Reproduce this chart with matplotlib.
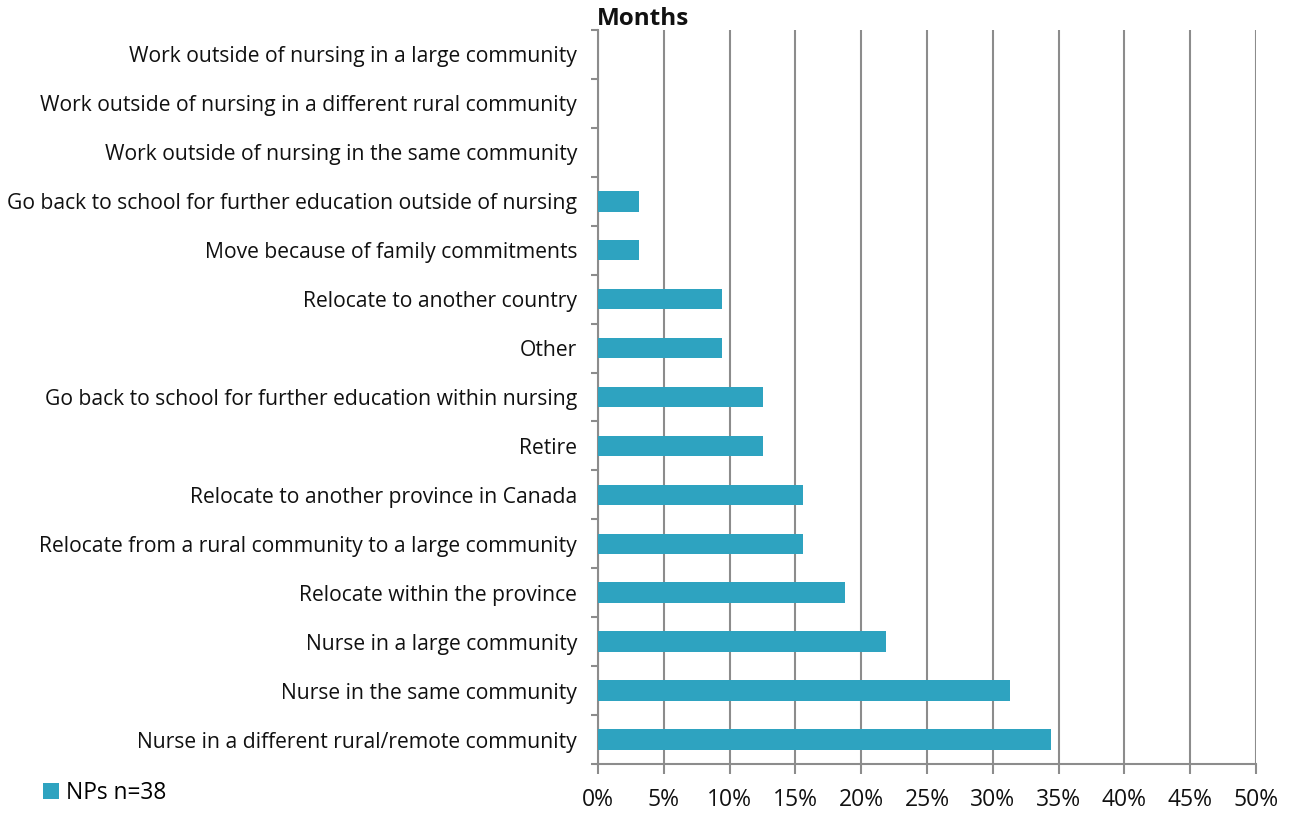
import matplotlib
matplotlib.use("Agg")
import matplotlib.pyplot as plt
from matplotlib.patches import Patch

categories = [
    "Nurse in a different rural/remote community",
    "Nurse in the same community",
    "Nurse in a large community",
    "Relocate within the province",
    "Relocate from a rural community to a large community",
    "Relocate to another province in Canada",
    "Retire",
    "Go back to school for further education within nursing",
    "Other",
    "Relocate to another country",
    "Move because of family commitments",
    "Go back to school for further education outside of nursing",
    "Work outside of nursing in the same community",
    "Work outside of nursing in a different rural community",
    "Work outside of nursing in a large community",
]
values = [34.4, 31.3, 21.9, 18.8, 15.6, 15.6, 12.5, 12.5, 9.4, 9.4, 3.1, 3.1, 0, 0, 0]
xticks = [0, 5, 10, 15, 20, 25, 30, 35, 40, 45, 50]
series_name = "NPs n=38"
title = "Months"

plt.rcParams['font.family'] = ['Open Sans', 'DejaVu Sans']
bar_color = "#2EA3C0"
grid_color = "#8C8C8C"
text_color = "#111111"

fig = plt.figure(figsize=(12.9, 8.23), dpi=100)
ax = fig.add_axes([598/1290, 1-764/823, (1256-598)/1290, (764-30)/823])

y = list(range(len(categories)))
ax.barh(y, values, height=0.42, color=bar_color, zorder=3)
ax.set_xlim(0, 50)
ax.set_ylim(-0.5, len(categories)-0.5)
ax.set_xticks(xticks)
ax.set_xticklabels([f"{t}%" for t in xticks], fontsize=16.5, color=text_color)
ax.set_yticks(y)
ax.set_yticklabels(categories, fontsize=15.2, color=text_color, va='center_baseline')
ax.set_yticks([i - 0.5 for i in range(len(categories)+1)], minor=True)
ax.tick_params(axis='y', which='major', length=0, pad=15)
ax.tick_params(axis='y', which='minor', length=5, width=1.5, color=grid_color)
ax.tick_params(axis='x', length=7, width=1.5, color=grid_color, pad=10)

ax.grid(axis='x', color=grid_color, linewidth=1.5, zorder=0)
for s in ['top', 'right']:
    ax.spines[s].set_visible(False)
for s in ['left', 'bottom']:
    ax.spines[s].set_color(grid_color)
    ax.spines[s].set_linewidth(1.5)

fig.text(597/1290, 1-19/823, title, fontsize=17.5, fontweight='bold', ha='left', va='center',
         color=text_color)

handle = Patch(facecolor=bar_color, edgecolor='none')
fig.legend([handle], [series_name], loc='center left', bbox_to_anchor=(22/1290, 1-793/823),
           frameon=False, fontsize=16.4, handlelength=0.72, handleheight=0.72, handletextpad=0.3)

fig.savefig("out.png", dpi=100)
